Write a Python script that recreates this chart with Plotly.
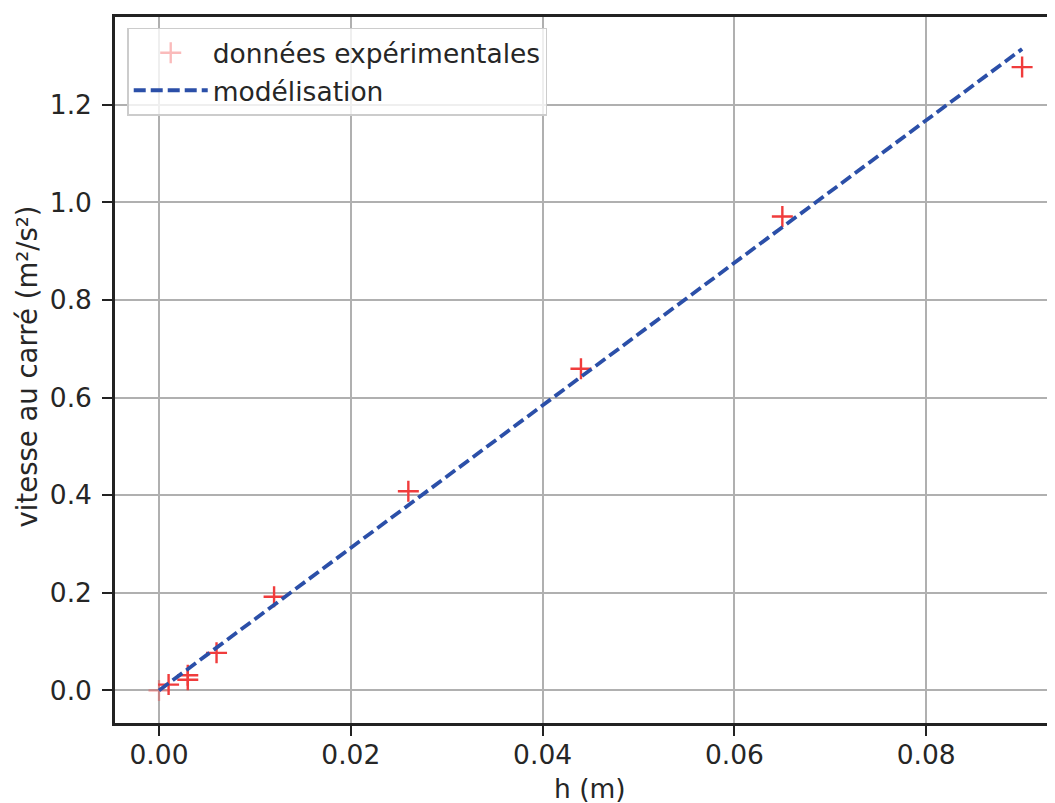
import plotly.graph_objects as go

# Experimental data
h_data = [0.0, 0.001, 0.003, 0.003, 0.006, 0.012, 0.026, 0.044, 0.065, 0.090]
v2_data = [0.0, 0.012, 0.022, 0.031, 0.077, 0.192, 0.408, 0.659, 0.971, 1.277]
point_colors = ["rgba(240,60,60,0.35)"] + ["#f03c3c"] * 9

# Model line
h_model = [0.0, 0.090]
v2_model = [0.0, 1.314]

x_ticks = [0.0, 0.02, 0.04, 0.06, 0.08]
x_tick_text = ["0.00", "0.02", "0.04", "0.06", "0.08"]
y_ticks = [0.0, 0.2, 0.4, 0.6, 0.8, 1.0, 1.2]
y_tick_text = ["0.0", "0.2", "0.4", "0.6", "0.8", "1.0", "1.2"]

FONT = "DejaVu Sans"
TXT = "#262626"
FS = 26.5

fig = go.Figure()
fig.add_trace(go.Scatter(
    x=h_data, y=v2_data, mode="markers", name="données expérimentales",
    marker=dict(symbol="cross-thin", size=15, color=point_colors,
                line=dict(color=point_colors, width=2.4)),
))
fig.add_trace(go.Scatter(
    x=h_model, y=v2_model, mode="lines", name="modélisation",
    line=dict(color="#2b4fa8", width=3.8, dash="12px,5px"),
))

fig.update_layout(
    width=1055, height=803,
    margin=dict(l=107, r=8, t=6, b=88, pad=0),
    paper_bgcolor="white", plot_bgcolor="white",
    font=dict(family=FONT, size=FS, color=TXT),
    showlegend=True,
    legend=dict(
        x=0.013, y=0.985, xanchor="left", yanchor="top",
        bgcolor="rgba(255,255,255,0.8)", bordercolor="#cccccc", borderwidth=1.5,
        font=dict(family=FONT, size=FS, color=TXT),
        tracegroupgap=0, itemwidth=74,
    ),
    xaxis=dict(
        range=[-0.004588, 0.09343], tickvals=x_ticks, ticktext=x_tick_text,
        showgrid=True, gridcolor="#b0b0b0", gridwidth=2, zeroline=False,
        showline=True, linecolor="#222222", linewidth=2.5, mirror=True,
        ticks="outside", ticklen=10, tickwidth=2, tickcolor="#222222",
        ticklabelstandoff=-4,
        tickfont=dict(family=FONT, size=FS, color=TXT),
    ),
    yaxis=dict(
        range=[-0.0667, 1.3796], tickvals=y_ticks, ticktext=y_tick_text,
        showgrid=True, gridcolor="#b0b0b0", gridwidth=2, zeroline=False,
        showline=True, linecolor="#222222", linewidth=2.5, mirror=False,
        ticks="outside", ticklen=10, tickwidth=2, tickcolor="#222222",
        ticklabelstandoff=5,
        tickfont=dict(family=FONT, size=FS, color=TXT),
    ),
    annotations=[
        dict(text="h (m)", xref="paper", yref="paper", x=0.5053, y=-0.093,
             xanchor="center", yanchor="middle", showarrow=False,
             font=dict(family=FONT, size=FS, color=TXT)),
        dict(text="vitesse au carré (m²/s²)", xref="paper", yref="paper",
             x=-0.094, y=0.5045, xanchor="center", yanchor="middle",
             textangle=-90, showarrow=False,
             font=dict(family=FONT, size=27.5, color=TXT)),
    ],
)

fig.write_html("out.html")
